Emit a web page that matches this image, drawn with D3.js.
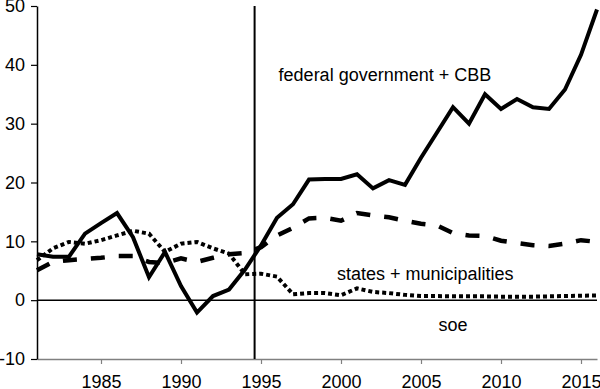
<!DOCTYPE html>
<html><head><meta charset="utf-8">
<script src="https://cdn.jsdelivr.net/npm/d3@7"></script>
<style>
body{margin:0;background:#fff;}
svg{display:block;font-family:"Liberation Sans",Arial,Helvetica,sans-serif;}
</style></head><body>
<svg id="c" width="600" height="389"></svg>
<script>
const years = d3.range(1981, 2017);
const federal = [7.8,7.4,7.4,11.3,13.1,14.8,10.7,3.9,8.2,2.4,-2.1,0.7,1.8,5.2,9.3,14.0,16.3,20.5,20.6,20.6,21.4,19.0,20.4,19.6,24.2,28.5,32.8,30.0,35.0,32.5,34.2,32.8,32.5,35.8,41.7,49.4];
const states = [5.1,6.5,6.8,7.0,7.2,7.5,7.5,6.5,6.3,7.1,6.5,7.2,7.8,8.0,9.0,11.0,12.3,13.9,14.0,13.5,14.8,14.4,14.1,13.5,13.0,12.7,11.4,11.0,10.9,10.1,9.7,9.35,9.2,9.6,10.2,9.9];
const soe = [6.8,8.8,9.9,9.6,10.2,11.0,11.8,11.3,8.2,9.6,9.9,8.8,7.9,4.4,4.5,4.0,1.0,1.2,1.2,0.85,2.0,1.4,1.2,0.9,0.7,0.7,0.65,0.65,0.65,0.6,0.6,0.6,0.65,0.7,0.75,0.8];
const yTicks = [-10,0,10,20,30,40,50];
const xTicks = [1985,1990,1995,2000,2005,2010,2015];
const breakYear = 1994.6;
const labels = [
  {text:"federal government + CBB", year:1996.1, value:37.3},
  {text:"states + municipalities", year:1999.75, value:3.4},
  {text:"soe", year:2006.1, value:-5.3}
];

const svg = d3.select("#c");
const x = d3.scaleLinear().domain([1981, 2016]).range([37, 597]);
const y = d3.scaleLinear().domain([-10, 50]).range([359, 6]);

// x axis at bottom
const gx = svg.append("g").attr("transform", `translate(0,${y(-10)})`)
  .call(d3.axisBottom(x).tickValues(xTicks).tickFormat(d3.format("d")).tickSize(5).tickSizeOuter(0).tickPadding(11));
gx.select(".domain").attr("stroke", "#808080").attr("stroke-width", 1.5);
gx.selectAll(".tick line").attr("stroke", "#808080").attr("stroke-width", 1.2);
gx.selectAll("text").attr("font-size", 18).attr("fill", "#000").attr("font-family", "Liberation Sans, Arial, sans-serif");

// y axis
const gy = svg.append("g").attr("transform", `translate(${x(1981)},0)`)
  .call(d3.axisLeft(y).tickValues(yTicks).tickFormat(d => d < 0 ? "-" + Math.abs(d) : d).tickSize(6).tickSizeOuter(0).tickPadding(6));
gy.select(".domain").attr("stroke", "#000").attr("stroke-width", 1.5);
gy.selectAll(".tick line").attr("stroke", "#000").attr("stroke-width", 1.2);
gy.selectAll("text").attr("font-size", 18).attr("fill", "#000").attr("font-family", "Liberation Sans, Arial, sans-serif");

// zero line
svg.append("line").attr("x1", x(1981)).attr("x2", x(2016)).attr("y1", y(0)).attr("y2", y(0))
  .attr("stroke", "#000").attr("stroke-width", 1.5);

// vertical break line
svg.append("line").attr("x1", x(breakYear)).attr("x2", x(breakYear)).attr("y1", y(50)).attr("y2", y(-10))
  .attr("stroke", "#000").attr("stroke-width", 2);

const line = d3.line().x((d,i) => x(years[i])).y(d => y(d));

svg.append("path").datum(soe).attr("d", line).attr("fill", "none")
  .attr("stroke", "#000").attr("stroke-width", 4).attr("stroke-dasharray", "4,3");
svg.append("path").datum(states).attr("d", line).attr("fill", "none")
  .attr("stroke", "#000").attr("stroke-width", 4.5).attr("stroke-dasharray", "14,14");
svg.append("path").datum(federal).attr("d", line).attr("fill", "none")
  .attr("stroke", "#000").attr("stroke-width", 4).attr("stroke-linejoin", "miter");

svg.selectAll("text.lab").data(labels).enter().append("text").attr("class", "lab")
  .attr("x", d => x(d.year)).attr("y", d => y(d.value))
  .attr("font-size", 18).attr("fill", "#000").text(d => d.text);
</script>
</body></html>
